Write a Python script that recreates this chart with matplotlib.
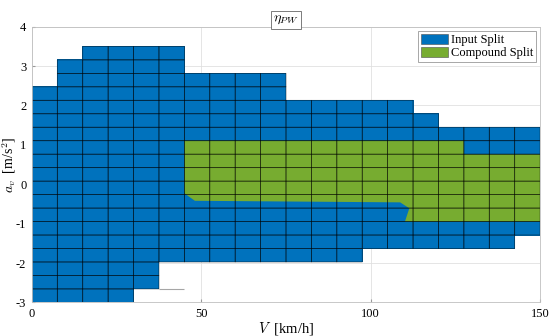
import numpy as np
import matplotlib
matplotlib.use("Agg")
from matplotlib import pyplot as plt
from matplotlib.colors import ListedColormap
from matplotlib.patches import Patch

plt.rcParams['font.family'] = ['Liberation Serif', 'DejaVu Serif']
plt.rcParams['mathtext.fontset'] = 'cm'
plt.rcParams['axes.unicode_minus'] = False

#Mesh of the operating map (speed in km/h, acceleration in m/s^2)
v_edges = np.linspace(0, 150, 21)
a_edges = np.linspace(-3, 3.5, 20)

#Feasible region per speed column: lower and upper acceleration limits
a_top = [2.47, 3.16, 3.5, 3.5, 3.5, 3.5, 2.82, 2.82, 2.82, 2.82,
         2.13, 2.13, 2.13, 2.13, 2.13, 1.79, 1.45, 1.45, 1.45, 1.45]
a_bottom = [-3.0, -3.0, -3.0, -3.0, -2.66, -1.97, -1.97, -1.97, -1.97, -1.97,
            -1.97, -1.97, -1.97, -1.63, -1.63, -1.63, -1.63, -1.63, -1.63, -1.29]

#Compound split region boundary
cs_upper_v = [45, 127.5, 127.5, 150]
cs_upper_a = [1.105, 1.105, 0.763, 0.763]
cs_lower_v = [45, 48.1, 108.7, 111.4, 110.1, 150]
cs_lower_a = [-0.23, -0.42, -0.46, -0.61, -0.95, -0.95]

blue = '#0072BD'
green = '#77AC30'

a_mid = (a_edges[:-1] + a_edges[1:]) / 2
mask = np.zeros((len(a_mid), len(v_edges) - 1), dtype=bool)
for j in range(len(v_edges) - 1):
    mask[:, j] = (a_mid > a_bottom[j]) & (a_mid < a_top[j])
cells = np.ma.masked_array(np.ones(mask.shape), mask=~mask)

fig = plt.figure(figsize=(5.5, 3.36), dpi=100)
ax = fig.add_axes([0.058, 0.1, 0.924, 0.8205])

ax.grid(True, color='0.88', lw=0.6)
ax.set_axisbelow(True)

ax.pcolor(v_edges, a_edges, cells, cmap=ListedColormap([blue]), edgecolors='none')

poly_v = cs_upper_v + cs_lower_v[::-1]
poly_a = cs_upper_a + cs_lower_a[::-1]
ax.fill(poly_v, poly_a, color=green, lw=0)

#cell edges on top of both regions
ax.pcolor(v_edges, a_edges, cells, cmap=ListedColormap([(0, 0, 0, 0)]),
          edgecolors=(0, 0, 0, 0.6), linewidth=0.5)
ax.hlines(a_edges[1], v_edges[5], v_edges[6], color='0.65', lw=0.8)

ax.set_xlim(0, 150)
ax.set_ylim(-3, 4)
ax.set_xticks([0, 50, 100, 150])
ax.set_yticks(range(-3, 5))
ax.tick_params(labelsize=9, length=2, direction='in', color='0.6', pad=4)
for s in ax.spines.values():
    s.set_color('0.75')
    s.set_linewidth(0.6)

ax.set_xlabel(r'$V$  [km/h]', fontsize=10.5, labelpad=0)
ax.set_ylabel(r'$a_v$  [m/s$^2$]', fontsize=10)
ax.yaxis.set_label_coords(-0.027, 0.5)
ax.set_title(r'$\eta_{PW}$', fontsize=10, pad=4,
             bbox=dict(facecolor='white', edgecolor='0.4', boxstyle='square,pad=0.2', lw=0.6))

handles = [Patch(facecolor=blue, edgecolor='0.3', lw=0.4),
           Patch(facecolor=green, edgecolor='0.3', lw=0.4)]
leg = ax.legend(handles, ['Input Split', 'Compound Split'], loc='upper right',
                fontsize=9, fancybox=False, framealpha=1, edgecolor='0.6',
                borderpad=0.2, handlelength=2.2, handleheight=0.9,
                handletextpad=0.2, labelspacing=0.05, borderaxespad=0.35)
leg.get_frame().set_linewidth(0.6)

plt.savefig("out.png", dpi=100)
